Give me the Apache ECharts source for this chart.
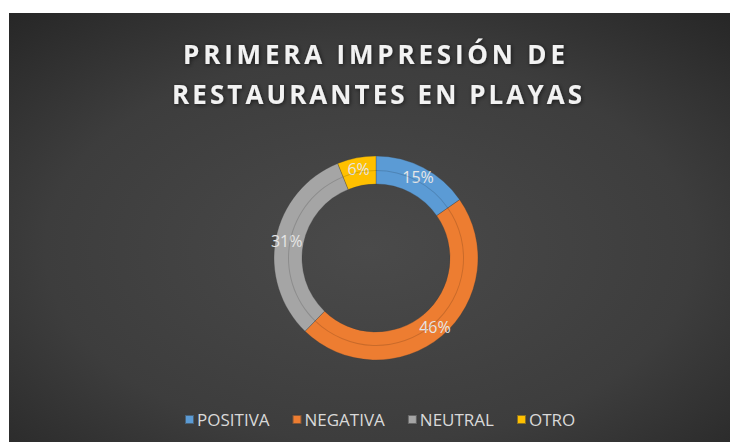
<!DOCTYPE html>
<html>
<head>
<meta charset="utf-8">
<script src="https://cdn.jsdelivr.net/npm/echarts@6/dist/echarts.min.js"></script>
<style>
html,body{margin:0;padding:0;background:#ffffff;width:730px;height:442px;overflow:hidden;}
#chart{position:absolute;left:9px;top:13px;width:721px;height:429px;}
</style>
</head>
<body>
<div id="chart"></div>
<script>
var categories = ['POSITIVA', 'NEGATIVA', 'NEUTRAL', 'OTRO'];
var values = [15, 46, 31, 6];
var colors = ['#5B9BD5', '#ED7D31', '#A5A5A5', '#FFC000'];
var titleLines = ['PRIMERA IMPRESIÓN DE', 'RESTAURANTES EN PLAYAS'];

// layout targets for title lines (page px): ink width and ink center
var titleTargets = [{ width: 382, center: 374 }, { width: 410, center: 377 }];
var TITLE_FONT = 'bold 26px "Open Sans"';

var data = categories.map(function (c, i) {
  return { name: c, value: values[i], itemStyle: { color: colors[i] } };
});
var bevel = categories.map(function (c, i) {
  return { name: c, value: values[i] };
});

var chart = echarts.init(document.getElementById('chart'), null, { renderer: 'svg' });
chart.setOption({
  animation: false,
  backgroundColor: {
    type: 'radial', x: 0.5, y: 0.55, r: 0.75,
    colorStops: [
      { offset: 0, color: '#4a4a4a' },
      { offset: 0.6, color: '#3d3d3d' },
      { offset: 1, color: '#262626' }
    ]
  },
  title: {
    text: titleLines.join('\n'),
    left: 'center',
    top: 16,
    textStyle: {
      fontFamily: 'Open Sans',
      fontWeight: 'bold',
      fontSize: 26,
      lineHeight: 40,
      color: '#f2f2f2',
      textShadowColor: 'rgba(0,0,0,0.6)',
      textShadowBlur: 4,
      textShadowOffsetX: 1,
      textShadowOffsetY: 1
    }
  },
  legend: {
    data: categories,
    bottom: 9,
    left: 170,
    icon: 'rect',
    itemWidth: 9,
    itemHeight: 9,
    itemGap: 22,
    textStyle: { fontFamily: 'Open Sans', fontSize: 17, color: '#d9d9d9', padding: [0, 0, 0, -2] }
  },
  series: [
    {
      type: 'pie',
      center: [367, 245],
      radius: [74, 102],
      startAngle: 90,
      clockwise: true,
      avoidLabelOverlap: false,
      data: data,
      itemStyle: { borderColor: 'rgba(60,60,60,0.6)', borderWidth: 0.5 },
      label: {
        show: true,
        position: 'inside',
        formatter: function (p) { return p.value + '%'; },
        fontFamily: 'Open Sans',
        fontSize: 16,
        color: '#e6e6e6'
      },
      labelLine: { show: false },
      emphasis: { disabled: true }
    },
    {
      type: 'pie',
      center: [367, 245],
      radius: [87, 88],
      startAngle: 90,
      clockwise: true,
      silent: true,
      legendHoverLink: false,
      data: bevel,
      itemStyle: { color: 'rgba(0,0,0,0.15)' },
      label: { show: false },
      labelLine: { show: false },
      tooltip: { show: false },
      z: 3
    }
  ]
});

function spaceTitle() {
  var cv = document.createElement('canvas').getContext('2d');
  cv.font = TITLE_FONT;
  var texts = document.querySelectorAll('#chart text');
  texts.forEach(function (t) {
    var s = (t.textContent || '').trim();
    var idx = titleLines.indexOf(s);
    if (idx < 0) return;
    var tg = titleTargets[idx];
    var natural = cv.measureText(s).width;
    var sp = (tg.width - natural) / (s.length - 1);
    t.setAttribute('dx', '0');
    t.setAttribute('letter-spacing', sp.toFixed(2));
    var r = t.getBoundingClientRect();
    var inkCenter = r.left + (r.width - sp) / 2;
    t.setAttribute('dx', (tg.center - inkCenter).toFixed(2));
  });
}
chart.on('finished', spaceTitle);
setTimeout(spaceTitle, 60);
</script>
</body>
</html>
